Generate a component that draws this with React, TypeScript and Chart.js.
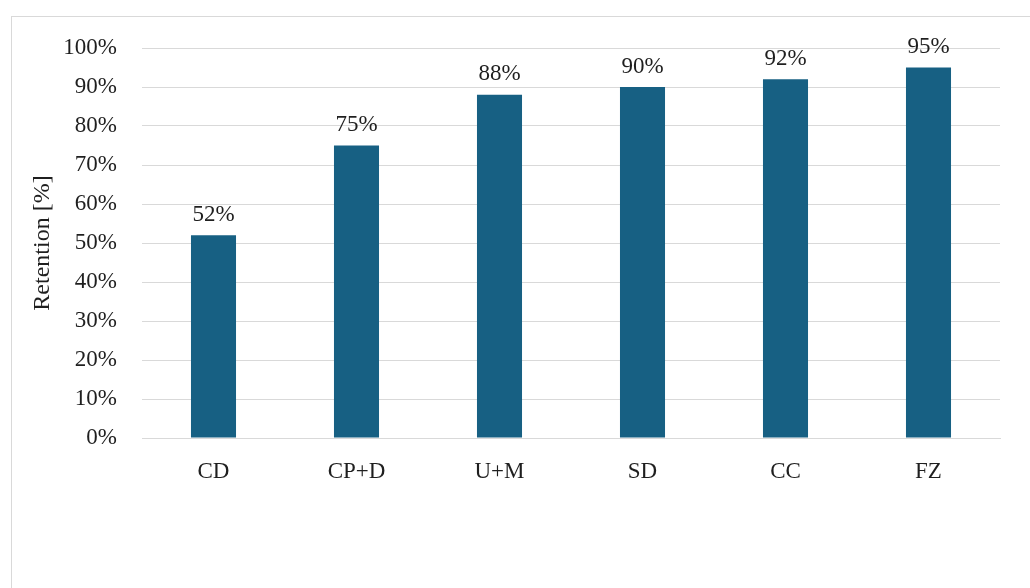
import React, { useEffect, useRef } from "react";
import { Chart, registerables } from "chart.js";

Chart.register(...registerables);

const categories = ["CD", "CP+D", "U+M", "SD", "CC", "FZ"];
const retention = [52, 75, 88, 90, 92, 95];
const yTicks = [0, 10, 20, 30, 40, 50, 60, 70, 80, 90, 100];

const FONT = "'Liberation Serif', 'DejaVu Serif', serif";

const labelPlugin = {
  id: "barLabels",
  afterDatasetsDraw(chart: any) {
    const ctx = chart.ctx;
    const meta = chart.getDatasetMeta(0);
    ctx.save();
    ctx.font = `23px ${FONT}`;
    ctx.fillStyle = "#1f1f1f";
    ctx.textAlign = "center";
    ctx.textBaseline = "bottom";
    meta.data.forEach((bar: any, i: number) => {
      ctx.fillText(`${retention[i]}%`, bar.x, bar.y - 9);
    });
    ctx.restore();
  },
};

export default function App() {
  const ref = useRef<HTMLCanvasElement>(null);
  useEffect(() => {
    if (!ref.current) return;
    const chart = new Chart(ref.current, {
      type: "bar",
      data: {
        labels: categories,
        datasets: [
          {
            data: retention,
            backgroundColor: "#176083",
            barPercentage: 0.315,
            categoryPercentage: 1,
          },
        ],
      },
      options: {
        animation: false,
        responsive: false,
        layout: { padding: { top: 48, right: 30, left: 0, bottom: 0 } },
        plugins: { legend: { display: false }, tooltip: { enabled: false } },
        scales: {
          x: {
            grid: { display: false, drawTicks: false },
            border: { display: true, color: "#d9d9d9", width: 1 },
            ticks: { color: "#1f1f1f", font: { family: FONT, size: 23 }, padding: 20 },
            afterFit: (s: any) => {
              s.height = 150;
            },
          },
          y: {
            min: 0,
            max: 100,
            afterBuildTicks: (s: any) => {
              s.ticks = yTicks.map((v) => ({ value: v }));
            },
            grid: { color: "#d9d9d9", drawTicks: false, lineWidth: 1 },
            border: { display: false },
            ticks: {
              color: "#1f1f1f",
              font: { family: FONT, size: 23 },
              padding: 25,
              callback: (v: any) => `${v}%`,
            },
            title: {
              display: true,
              text: "Retention [%]",
              color: "#1f1f1f",
              font: { family: FONT, size: 24 },
              padding: { top: 28, bottom: 0 },
            },
            afterFit: (s: any) => {
              s.width = 142;
            },
          },
        },
      },
      plugins: [labelPlugin],
    });
    return () => chart.destroy();
  }, []);
  return (
    <div style={{ position: "absolute", left: 0, top: 0, width: 1030, height: 588, overflow: "hidden", background: "#fff" }}>
      <div
        style={{
          position: "absolute",
          left: 11,
          top: 16,
          width: 1100,
          height: 700,
          borderTop: "1px solid #d9d9d9",
          borderLeft: "1px solid #d9d9d9",
        }}
      />
      <canvas ref={ref} width={1030} height={588} style={{ position: "absolute", left: 0, top: 0 }} />
    </div>
  );
}
